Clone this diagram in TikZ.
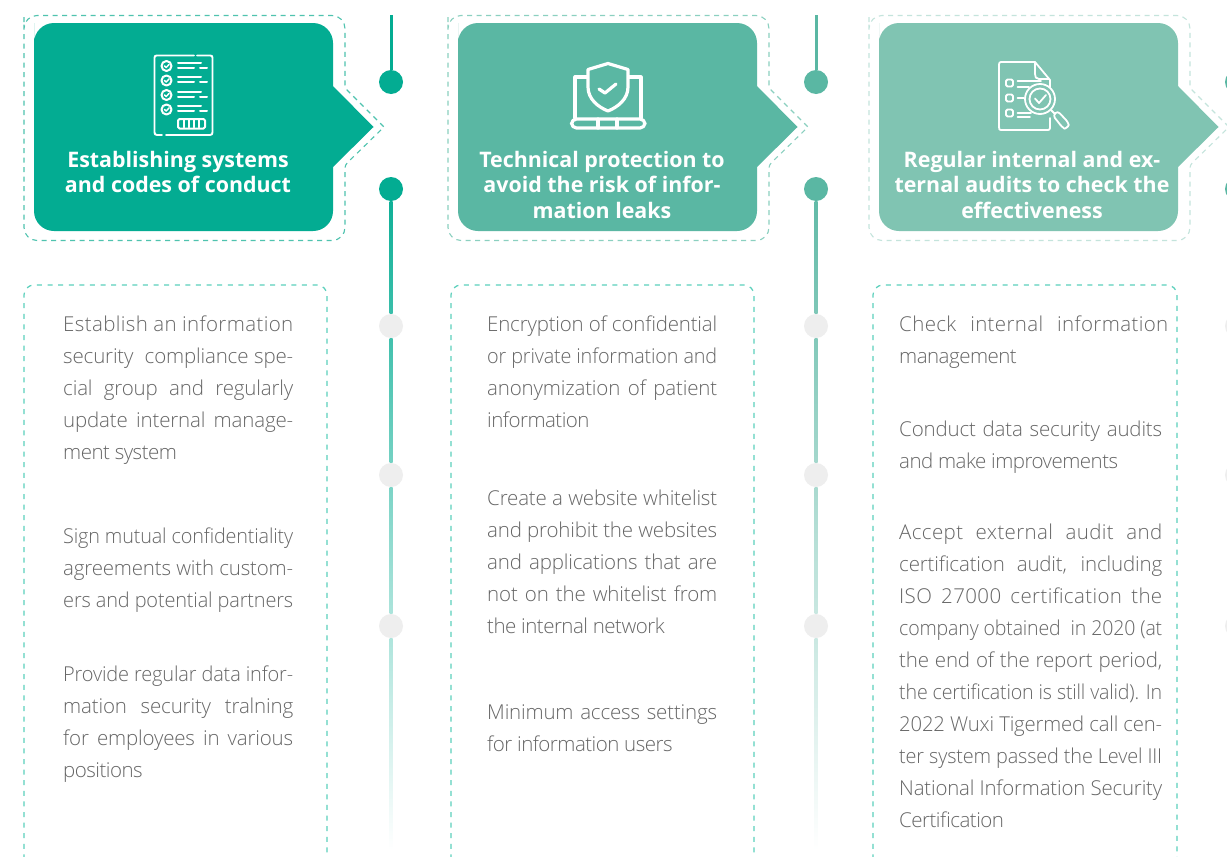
\documentclass[tikz,border=0pt]{standalone}
\usepackage{fontspec}
\usepackage{graphicx}
\usetikzlibrary{calc}
\setmainfont{Open Sans}
\newfontfamily\lightf[LetterSpace=-2.5]{Open Sans Light}
\newfontfamily\lightm[LetterSpace=-0.8]{Open Sans Light}
\newfontfamily\lightw[LetterSpace=1.8]{Open Sans Light}
\definecolor{teala}{HTML}{03AC92}
\definecolor{tealb}{HTML}{5AB7A3}
\definecolor{tealc}{HTML}{80C4B2}
\definecolor{dasha}{HTML}{4FC3AF}
\definecolor{dashb}{HTML}{8BD0C0}
\definecolor{dashc}{HTML}{C4E4DC}
\definecolor{dashd}{HTML}{5CD0BC}
\definecolor{bodygray}{HTML}{666666}
\definecolor{dotgray}{HTML}{EEEEEE}
\newlength{\jw}
\setlength{\jw}{230pt}
\newsavebox{\linebx}
\newcommand{\jl}[1]{\sbox{\linebx}{\lightm #1}%
  \ifdim\wd\linebx>\jw
    \pgfmathsetmacro{\rr}{\jw/\wd\linebx}\scalebox{\rr}[1]{\usebox{\linebx}}%
  \else\makebox[\jw][s]{\lightm #1}\fi}
\newcommand{\jlw}[1]{\makebox[\jw][s]{\lightw #1}}
\newcommand{\nl}[1]{\makebox[\jw][l]{#1}}
\tikzset{
  x=1pt,y=-1pt,
  flagdash/.style={line width=1.1pt,dash pattern=on 5pt off 4.5pt},
  panel/.style={draw=dashd,line width=1.2pt,dash pattern=on 5pt off 5.6pt,rounded corners=10pt},
  title/.style={inner sep=0pt,align=center,text=white,font=\fontsize{21.4}{25.6}\selectfont\bfseries},
  bodytext/.style={inner sep=0pt,anchor=north west,align=left,text=bodygray,font=\fontsize{20.5}{32}\lightf},
  icon/.style={draw=white,line width=3.2pt,line cap=round,line join=round},
  icont/.style={draw=white,line width=1.8pt,line cap=round,line join=round},
  tick/.style={line width=3pt},
  dotnode/.style={circle,inner sep=0pt,minimum size=24pt},
}
\newcommand{\flagshape}[3]{% left, colour, dash colour
  \fill[#2] (#1,43) [rounded corners=20pt] -- (#1,23) -- (#1+299,23) [sharp corners] -- (#1+299,86) -- (#1+339.5,127) -- (#1+299,167) [rounded corners=20pt] -- (#1+299,231) -- (#1,231) -- cycle;
  \draw[flagdash,#3] (#1-10,30) [rounded corners=13pt] -- (#1-10,15.5) -- (#1+311,15.5) [rounded corners=3pt] -- (#1+311,88) [sharp corners] -- (#1+350,127) [rounded corners=3pt] -- (#1+311,165) [rounded corners=13pt] -- (#1+311,240.5) -- (#1-10,240.5) -- cycle;
}
\newcommand{\rail}[3]{% x, colour, prefix
  \coordinate (#3top) at (#1,15);
  \node[dotnode,fill=#2] (#3a) at (#1,82) {};
  \node[dotnode,fill=#2] (#3b) at (#1,189) {};
  \node[dotnode,fill=dotgray] (#3c) at (#1,326) {};
  \node[dotnode,fill=dotgray] (#3d) at (#1,475) {};
  \node[dotnode,fill=dotgray] (#3e) at (#1,626) {};
  \coordinate (#3end) at (#1,850);
  \draw[tick,#2] (#3top) -- (#3a);
  \shade[top color=#2!95!white,bottom color=#2!78!white] ($(#3b.south)+(-1.5,0)$) rectangle ($(#3c.north)+(1.5,0)$);
  \shade[top color=#2!75!white,bottom color=#2!55!white] ($(#3c.south)+(-1.5,0)$) rectangle ($(#3d.north)+(1.5,0)$);
  \shade[top color=#2!52!white,bottom color=#2!33!white] ($(#3d.south)+(-1.5,0)$) rectangle ($(#3e.north)+(1.5,0)$);
  \shade[top color=#2!32!white,bottom color=white] ($(#3e.south)+(-1.5,0)$) rectangle ($(#3end)+(1.5,0)$);
}
\begin{document}
\begin{tikzpicture}
\useasboundingbox (0,0) rectangle (1227,857);
\clip (0,0) rectangle (1227,857);
\fill[white] (0,0) rectangle (1227,857);
% rails
\rail{391}{teala}{ra}
\rail{816}{tealb}{rb}
\rail{1237}{tealb}{rc}
% flags
\flagshape{34}{teala}{dasha}
\flagshape{458}{tealb}{dashb}
\flagshape{879}{tealc}{dashc}
% panels
\draw[panel] (24,870) -- (24,285) -- (327,285) -- (327,870);
\draw[panel] (451,870) -- (451,285) -- (754,285) -- (754,870);
\draw[panel] (873,870) -- (873,285) -- (1177,285) -- (1177,870);
% titles
\node[title] (t1) at (178,172) {Establishing systems\\and codes of conduct};
\node[title] (t2) at (602,184.7) {Technical protection to\\avoid the risk of infor-\\mation leaks};
\node[title] (t3) at (1032,184.7) {Regular internal and ex-\\ternal audits to check the\\effectiveness};
% icon 1: checklist
\begin{scope}[shift={(154,55)}]
  \draw[icon,line width=1.9pt] (43,0.5) -- (56,0.5) .. controls (58,0.5) and (58.5,1) .. (58.5,3) -- (58.5,77) .. controls (58.5,79) and (58,80) .. (56,80) -- (12,80);
  \draw[icon,line width=1.9pt] (8,80) -- (3,80) .. controls (1,80) and (0.5,79) .. (0.5,77) -- (0.5,3) .. controls (0.5,1) and (1,0.5) .. (3,0.5) -- (40,0.5);
  \foreach \yy in {11,25.5,40,54.5}{
    \draw[icont,line width=2pt] (12.5,\yy) circle (5);
    \draw[icont,line width=1.5pt] (10.5,\yy) -- (12.2,\yy+1.5) -- (15,\yy-1.5);
    \draw[icont,line width=2pt] (24,\yy-3.5) -- (47,\yy-3.5);
    \draw[icont,line width=2pt] (24,\yy+1.5) -- (40,\yy+1.5);
    \draw[icont,line width=2pt] (46,\yy+1.5) -- (53,\yy+1.5);
  }
  \draw[icont,line width=2pt,rounded corners=1.5pt] (24,64) rectangle (51,73.5);
  \foreach \xx in {30,35,40,45}{\draw[icont,line width=1.5pt] (\xx,65) -- (\xx,72.5);}
\end{scope}
% icon 2: laptop and shield
\begin{scope}[shift={(570,62)}]
  \draw[icon] (17,15) -- (5,15) -- (5,56);
  \draw[icon] (59,15) -- (71,15) -- (71,56);
  \draw[icon,rounded corners=5pt] (1.5,57) rectangle (75,66);
  \draw[icon] (28,57) -- (28,66);
  \draw[icon] (47,57) -- (47,66);
  \draw[icon] (38,1.5) -- (18,7.5) -- (18,25) .. controls (18,37) and (28,45) .. (38,49) .. controls (48,45) and (58,37) .. (58,25) -- (58,7.5) -- cycle;
  \draw[icon] (29,27) -- (35,31) -- (46,22);
\end{scope}
% icon 3: document and magnifier
\begin{scope}[shift={(998,60)}]
  \draw[icont] (37,2) -- (3,2) .. controls (1.5,2) and (1,3) .. (1,4.5) -- (1,67) .. controls (1,69.5) and (1.5,70) .. (3,70) -- (50,70) .. controls (51,70) and (52,69.5) .. (52,68) -- (52,58);
  \draw[icont] (37,2) -- (52,20) -- (52,27);
  \draw[icont] (37,3) -- (37,14) .. controls (37,17) and (38,19) .. (41,19) -- (51,19);
  \foreach \yy in {23,38,53}{\draw[icont,rounded corners=1.5pt] (8,\yy-3.5) rectangle (15,\yy+3.5);}
  \draw[icont] (19.5,21) -- (43,21);
  \draw[icont] (19.5,27) -- (31,27);
  \draw[icont] (19.5,38) -- (26,38);
  \draw[icont] (19.5,53) -- (33,53);
  \draw[icont] (19.5,57) -- (32,57);
  \draw[icont] (42,39) circle (15);
  \draw[icont] (42,39) circle (10.5);
  \draw[icont] (37,38.5) -- (41,43) -- (48,35);
  \draw[icont] (53,50) -- (57,54);
  \draw[icont,rounded corners=3pt] (55,55.5) -- (59.5,51) -- (70,62) .. controls (71,66) and (67,69) .. (64,67) -- cycle;
\end{scope}
% column 1
\setlength{\jw}{230pt}
\node[bodytext] (b11) at (63,316) {\jlw{Establish an information}\\\jl{security \ compliance spe-}\\\jl{cial group and regularly}\\\jl{update internal manage-}\\\nl{ment system}};
\node[bodytext] (b12) at (63,528) {\jl{Sign mutual confidentiality}\\\jl{agreements with custom-}\\\jl{ers and potential partners}};
\node[bodytext] (b13) at (63,666) {\jl{Provide regular data infor-}\\\jl{mation security tralning}\\\jl{for employees in various}\\\nl{positions}};
% column 2
\node[bodytext] (b21) at (487,316) {\jl{Encryption of confidential}\\\jl{or private information and}\\\jl{anonymization of patient}\\\nl{information}};
\node[bodytext] (b22) at (487,490) {\jl{Create a website whitelist}\\\jl{and prohibit the websites}\\\jl{and applications that are}\\\jl{not on the whitelist from}\\\nl{the internal network}};
\node[bodytext] (b23) at (487,704) {\jl{Minimum access settings}\\\nl{for information users}};
% column 3
\setlength{\jw}{263pt}
\node[bodytext] (b31) at (899,316) {\makebox[269pt][s]{\lightw Check internal information}\\\nl{management}};
\node[bodytext] (b32) at (899,421) {\jl{Conduct data security audits}\\\nl{and make improvements}};
\node[bodytext] (b33) at (899,524) {\jlw{Accept external audit and}\\\jl{certification audit, including}\\\jlw{ISO 27000 certification the}\\\jl{company obtained \ in 2020 (at}\\\jl{the end of the report period,}\\\jl{the certification is still valid). In}\\\jl{2022 Wuxi Tigermed call cen-}\\\jl{ter system passed the Level III}\\\jl{National Information Security}\\\nl{Certification}};
\end{tikzpicture}
\end{document}
